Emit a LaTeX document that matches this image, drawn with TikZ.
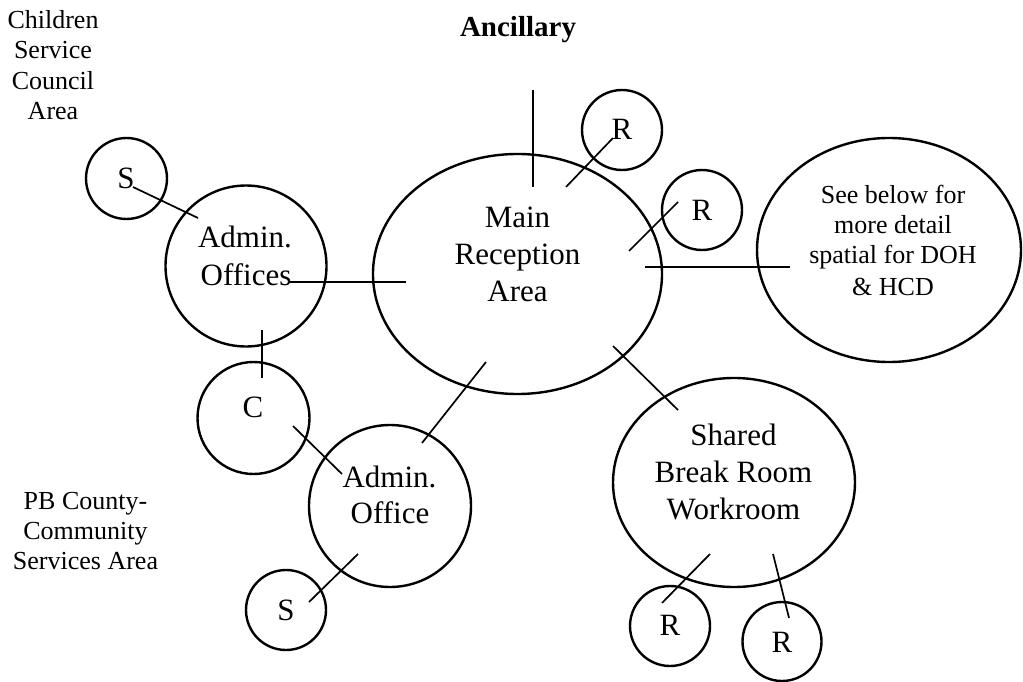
\documentclass[tikz,border=0pt]{standalone}
\usepackage{fontspec}
\setmainfont{Liberation Serif}
\usetikzlibrary{shapes.geometric}
\begin{document}
\begin{tikzpicture}[x=1pt,y=-1pt,
  room/.style={draw, line width=2.4pt, inner sep=0pt},
  rcircle/.style={room, circle},
  rellipse/.style={room, ellipse},
  conn/.style={line width=1.7pt},
  big/.style={font=\fontsize{31}{37}\selectfont, anchor=base, inner sep=0pt},
  small/.style={font=\fontsize{26}{30}\selectfont, anchor=base, inner sep=0pt},
  title/.style={font=\fontsize{29}{34}\selectfont\bfseries, anchor=base, inner sep=0pt}]
\useasboundingbox (0,0) rectangle (1023,682);

% shapes
\node[rcircle, minimum size=81pt] (s1) at (126.5,178.5) {};
\node[rcircle, minimum size=161pt] (ao) at (246,266) {};
\node[rellipse, minimum width=289pt, minimum height=240pt] (main) at (517.5,274) {};
\node[rcircle, minimum size=80pt] (r1) at (622,130) {};
\node[rcircle, minimum size=80pt] (r2) at (702,210) {};
\node[rellipse, minimum width=264pt, minimum height=224pt] (doh) at (889,250) {};
\node[rcircle, minimum size=112pt] (c) at (253.5,418) {};
\node[rcircle, minimum size=162pt] (ao2) at (390,506) {};
\node[rcircle, minimum size=80pt] (s2) at (286,610) {};
\node[rellipse, minimum width=242pt, minimum height=209pt] (shared) at (734,482.5) {};
\node[rcircle, minimum size=80pt] (r3) at (670,626) {};
\node[rcircle, minimum size=79pt] (r4) at (782,641.5) {};

% texts
\node[title] (anc) at (518,37) {Ancillary};
\node[small] (cs1) at (53,29) {Children};
\node[small] (cs2) at (53,59) {Service};
\node[small] (cs3) at (53,90) {Council};
\node[small] (cs4) at (53,120) {Area};
\node[small] (pb1) at (85.5,509) {PB County-};
\node[small] (pb2) at (85.5,539) {Community};
\node[small] (pb3) at (85.5,569) {Services Area};
\node[big] (s1t) at (126,188) {S};
\node[big] (aot1) at (245,247) {Admin.};
\node[big] (aot2) at (246,285) {Offices};
\node[big] (mt1) at (517.5,227) {Main};
\node[big] (mt2) at (517.5,264) {Reception};
\node[big] (mt3) at (517.5,301) {Area};
\node[big] (r1t) at (622,140) {R};
\node[big] (r2t) at (702,220) {R};
\node[small] (dt1) at (893,204) {See below for};
\node[small] (dt2) at (893,233) {more detail};
\node[small] (dt3) at (893,263) {spatial for DOH};
\node[small] (dt4) at (893,295) {\& HCD};
\node[big] (ct) at (253,417) {C};
\node[big] (ao2t1) at (389.5,487) {Admin.};
\node[big] (ao2t2) at (390,523) {Office};
\node[big] (s2t) at (286,620) {S};
\node[big] (sh1) at (733.5,445) {Shared};
\node[big] (sh2) at (733.5,482) {Break Room};
\node[big] (sh3) at (733.5,519) {Workroom};
\node[big] (r3t) at (670,635) {R};
\node[big] (r4t) at (782,652) {R};

% connector end points
\coordinate (k1a) at (133,187);  \coordinate (k1b) at (198,218);
\coordinate (k2a) at (290,282);  \coordinate (k2b) at (406,282);
\coordinate (k3a) at (533,90);   \coordinate (k3b) at (533,187);
\coordinate (k4a) at (613,138);  \coordinate (k4b) at (566,187);
\coordinate (k5a) at (678,202);  \coordinate (k5b) at (629,251);
\coordinate (k6a) at (645,267);  \coordinate (k6b) at (790,267);
\coordinate (k7a) at (262,330);  \coordinate (k7b) at (262,378);
\coordinate (k8a) at (293,426);  \coordinate (k8b) at (342,474);
\coordinate (k9a) at (422,443);  \coordinate (k9b) at (486,362);
\coordinate (k10a) at (309,602); \coordinate (k10b) at (358,554);
\coordinate (k11a) at (613,346); \coordinate (k11b) at (678,410);
\coordinate (k12a) at (662,603); \coordinate (k12b) at (710,554);
\coordinate (k13a) at (789,618); \coordinate (k13b) at (773,554);

\draw[conn] (k1a) -- (k1b);
\draw[conn] (k2a) -- (k2b);
\draw[conn] (k3a) -- (k3b);
\draw[conn] (k4a) -- (k4b);
\draw[conn] (k5a) -- (k5b);
\draw[conn] (k6a) -- (k6b);
\draw[conn] (k7a) -- (k7b);
\draw[conn] (k8a) -- (k8b);
\draw[conn] (k9a) -- (k9b);
\draw[conn] (k10a) -- (k10b);
\draw[conn] (k11a) -- (k11b);
\draw[conn] (k12a) -- (k12b);
\draw[conn] (k13a) -- (k13b);
\end{tikzpicture}
\end{document}
